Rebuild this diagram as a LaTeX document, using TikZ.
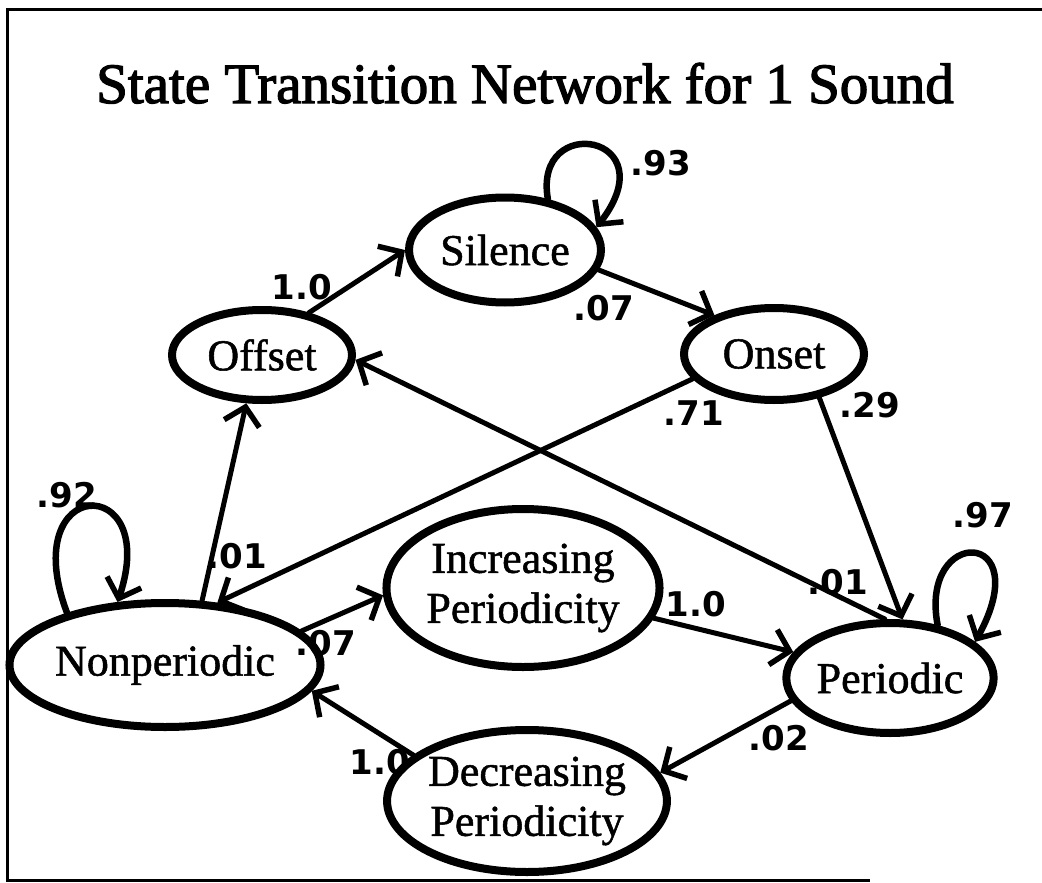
\documentclass[tikz,border=0pt]{standalone}
\usepackage{fontspec}
\setmainfont{Liberation Serif}
\newfontfamily\titlefont[BoldFont={Liberation Serif},BoldFeatures={FakeBold=2.2}]{Liberation Serif}
\newfontfamily\statefont[BoldFont={Liberation Serif},BoldFeatures={FakeBold=1.2}]{Liberation Serif}
\newfontfamily\probfont{DejaVu Sans}
\usetikzlibrary{shapes.geometric,arrows.meta}

\begin{document}
\begin{tikzpicture}[x=1pt,y=-1pt,
  state/.style={ellipse, draw, line width=8pt, inner sep=0pt, align=center,
    font=\statefont\bfseries\fontsize{44}{50}\selectfont},
  trans/.style={line width=5pt, line cap=round,
    -{Straight Barb[length=17pt,width=36pt,line width=5.5pt]}},
  selfloop/.style={trans, line width=6.5pt},
  prob/.style={inner sep=0pt, font=\probfont\bfseries\fontsize{34}{34}\selectfont}]

\useasboundingbox (0,0) rectangle (1042,883);
% open frame
\draw[line width=3pt] (1042,10) -- (7,10) -- (7,880) -- (870,880);

% title
\node[anchor=base, font=\titlefont\bfseries\fontsize{57}{60}\selectfont] (title) at (525,103)
  {State Transition Network for 1 Sound};

% states
\node[state, minimum width=192pt, minimum height=105pt] (sil) at (505,250) {Silence};
\node[state, minimum width=180pt, minimum height=90pt]  (off) at (262,355) {Offset};
\node[state, minimum width=180pt, minimum height=92pt]  (ons) at (774,354) {Onset};
\node[state, minimum width=266pt, minimum height=124pt] (non) at (165,665) {Nonperiodic};
\node[state, minimum width=265pt, minimum height=158pt] (inc) at (523,588) {Increasing\\Periodicity};
\node[state, minimum width=195pt, minimum height=110pt] (per) at (890,678) {Periodic};
\node[state, minimum width=261pt, minimum height=142pt] (dec) at (527,801) {Decreasing\\Periodicity};

% transitions
\draw[trans] (off.42) -- (sil.180);
\draw[trans] (sil.-12) -- (ons.147);
\draw[trans] (ons.197) -- (non.50);
\draw[trans] (ons.-44) -- (per.78);
\draw[trans] (per.95) -- (off.-3);
\draw[trans] (non.60) -- (off.252);
\draw[trans] (non.14) -- (inc.183);
\draw[trans] (inc.-13) -- (per.165);
\draw[trans] (per.193) -- (dec.12);
\draw[trans] (dec.158) -- (non.-10);

% self loops
\draw[selfloop] (sil.50) .. controls +(-15,-87) and +(72,-93) .. (sil.14);
\draw[selfloop] (per.48) .. controls +(-19,-99) and +(63,-115) .. (per.23);
\draw[selfloop] (non.152) .. controls +(-52,-138) and +(44,-131) .. (non.127);

% transition probabilities
\node[prob] (p93)  at (661,163) {.93};
\node[prob] (p10a) at (302,287) {1.0};
\node[prob] (p07a) at (604,308) {.07};
\node[prob] (p71)  at (694,413) {.71};
\node[prob] (p29)  at (870,405) {.29};
\node[prob] (p92)  at (67,495)  {.92};
\node[prob] (p01a) at (237,556) {.01};
\node[prob] (p07b) at (326,643) {.07};
\node[prob] (p97)  at (983,515) {.97};
\node[prob] (p01b) at (838,582) {.01};
\node[prob] (p10b) at (696,604) {1.0};
\node[prob] (p02)  at (779,738) {.02};
\node[prob] (p10c) at (380,762) {1.0};
\end{tikzpicture}
\end{document}
